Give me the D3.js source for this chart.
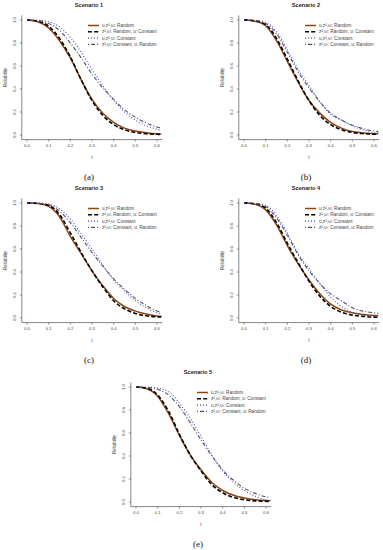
<!DOCTYPE html>
<html>
<head>
<meta charset="utf-8">
<script src="https://cdn.jsdelivr.net/npm/d3@7"></script>
<style>
  body { margin: 0; background: #fff; }
  svg { display: block; }
</style>
</head>
<body>
<svg id="chart" width="383" height="550"></svg>
<script>
// time grid shared by every curve
const tVals = [0, 0.05, 0.1, 0.15, 0.2, 0.25, 0.3, 0.35, 0.4, 0.45, 0.5, 0.55, 0.6, 0.62];

const seriesNames = [
    "u,z\u00b2,\u03c9: Random",
    "z\u00b2,\u03c9: Random, u: Constant",
    "u,z\u00b2,\u03c9: Constant",
    "z\u00b2,\u03c9: Constant, u: Random"
];

const xTicks = [0, 0.1, 0.2, 0.3, 0.4, 0.5, 0.6];
const yTicks = [0, 0.2, 0.4, 0.6, 0.8, 1.0];

// reliability (random, z-random/u-const, constant, z-const/u-random)
const s1Random    = [1, 0.985, 0.93, 0.82, 0.67, 0.48, 0.31, 0.19, 0.11, 0.06, 0.035, 0.02, 0.01, 0.008];
const s1ZRandom   = [1, 0.99, 0.945, 0.84, 0.68, 0.48, 0.30, 0.17, 0.09, 0.045, 0.022, 0.011, 0.006, 0.005];
const s1Constant  = [1, 0.998, 0.985, 0.94, 0.85, 0.72, 0.57, 0.43, 0.30, 0.20, 0.13, 0.08, 0.05, 0.04];
const s1ZConstant = [1, 0.995, 0.97, 0.91, 0.80, 0.67, 0.53, 0.41, 0.31, 0.22, 0.155, 0.105, 0.07, 0.06];

const s2Random    = [1, 0.99, 0.95, 0.82, 0.64, 0.46, 0.30, 0.19, 0.11, 0.06, 0.03, 0.018, 0.011, 0.01];
const s2ZRandom   = [1, 0.993, 0.96, 0.84, 0.66, 0.47, 0.30, 0.17, 0.09, 0.045, 0.022, 0.012, 0.007, 0.006];
const s2Constant  = [1, 0.997, 0.98, 0.90, 0.74, 0.57, 0.43, 0.29, 0.18, 0.13, 0.08, 0.045, 0.022, 0.02];
const s2ZConstant = [1, 0.995, 0.97, 0.88, 0.72, 0.55, 0.41, 0.29, 0.19, 0.13, 0.085, 0.055, 0.035, 0.03];

const s3Random    = [1, 0.995, 0.97, 0.88, 0.71, 0.56, 0.41, 0.28, 0.17, 0.10, 0.06, 0.035, 0.018, 0.015];
const s3ZRandom   = [1, 0.997, 0.98, 0.90, 0.74, 0.57, 0.41, 0.27, 0.15, 0.08, 0.04, 0.02, 0.01, 0.008];
const s3Constant  = [1, 0.999, 0.99, 0.95, 0.86, 0.73, 0.60, 0.46, 0.33, 0.235, 0.15, 0.09, 0.045, 0.038];
const s3ZConstant = [1, 0.998, 0.985, 0.93, 0.83, 0.70, 0.57, 0.45, 0.34, 0.25, 0.17, 0.11, 0.06, 0.05];

const s4Random    = [1, 0.99, 0.94, 0.81, 0.63, 0.47, 0.33, 0.21, 0.12, 0.07, 0.045, 0.03, 0.022, 0.02];
const s4ZRandom   = [1, 0.993, 0.955, 0.83, 0.65, 0.48, 0.32, 0.19, 0.10, 0.05, 0.025, 0.014, 0.008, 0.007];
const s4Constant  = [1, 0.997, 0.98, 0.89, 0.74, 0.56, 0.43, 0.30, 0.18, 0.10, 0.05, 0.025, 0.012, 0.01];
const s4ZConstant = [1, 0.995, 0.97, 0.87, 0.72, 0.55, 0.41, 0.30, 0.21, 0.15, 0.09, 0.06, 0.045, 0.04];

const s5Random    = [1, 0.985, 0.92, 0.77, 0.58, 0.41, 0.28, 0.17, 0.10, 0.058, 0.035, 0.02, 0.012, 0.01];
const s5ZRandom   = [1, 0.99, 0.93, 0.79, 0.59, 0.41, 0.27, 0.15, 0.08, 0.04, 0.02, 0.01, 0.006, 0.005];
const s5Constant  = [1, 0.999, 0.99, 0.96, 0.86, 0.73, 0.57, 0.41, 0.27, 0.17, 0.10, 0.05, 0.018, 0.015];
const s5ZConstant = [1, 0.997, 0.98, 0.93, 0.83, 0.69, 0.54, 0.40, 0.28, 0.19, 0.12, 0.075, 0.045, 0.04];

const panels = [
    { title: "Scenario 1", cap: "(a)", x0: 27,  top: 20,  series: [s1Random, s1ZRandom, s1Constant, s1ZConstant] },
    { title: "Scenario 2", cap: "(b)", x0: 244, top: 20,  series: [s2Random, s2ZRandom, s2Constant, s2ZConstant] },
    { title: "Scenario 3", cap: "(c)", x0: 27,  top: 203, series: [s3Random, s3ZRandom, s3Constant, s3ZConstant] },
    { title: "Scenario 4", cap: "(d)", x0: 244, top: 203, series: [s4Random, s4ZRandom, s4Constant, s4ZConstant] },
    { title: "Scenario 5", cap: "(e)", x0: 136, top: 387, series: [s5Random, s5ZRandom, s5Constant, s5ZConstant] }
];

const styles = [
    { color: "#8B4513", width: 1.5, dash: null },
    { color: "#000000", width: 1.6, dash: "4,2.2" },
    { color: "#4a4ac8", width: 1.1, dash: "1,2" },
    { color: "#505068", width: 1.1, dash: "1,2,4,2" }
];

const svg = d3.select("#chart");
const sans = "'Liberation Sans', Arial, sans-serif";
const ink = "#444";

panels.forEach((p, pi) => {
    const x = d3.scaleLinear().domain([0, 0.6]).range([p.x0, p.x0 + 130]);
    const y = d3.scaleLinear().domain([0, 1]).range([p.top + 115, p.top]);
    const xMin = -0.024, xMax = 0.624, yMin = -0.04, yMax = 1.04;

    const g = svg.append("g");

    svg.append("clipPath").attr("id", "clip" + pi)
        .append("rect")
        .attr("x", x(xMin)).attr("y", y(yMax))
        .attr("width", x(xMax) - x(xMin)).attr("height", y(yMin) - y(yMax));

    // L-shaped box
    g.append("path")
        .attr("d", `M${x(xMin)},${y(yMax)}V${y(yMin)}H${x(xMax)}`)
        .attr("fill", "none").attr("stroke", "#333").attr("stroke-width", 0.6);

    // x ticks
    const xt = g.append("g");
    xt.selectAll("line").data(xTicks).enter().append("line")
        .attr("x1", d => x(d)).attr("x2", d => x(d))
        .attr("y1", y(yMin)).attr("y2", y(yMin) + 2)
        .attr("stroke", "#333").attr("stroke-width", 0.5);
    xt.selectAll("text").data(xTicks).enter().append("text")
        .attr("x", d => x(d)).attr("y", y(yMin) + 7.5)
        .attr("text-anchor", "middle")
        .attr("font-family", sans).attr("font-size", 4.2).attr("fill", ink)
        .text(d => d3.format(".1f")(d));

    // y ticks
    const yt = g.append("g");
    yt.selectAll("line").data(yTicks).enter().append("line")
        .attr("x1", x(xMin)).attr("x2", x(xMin) - 2)
        .attr("y1", d => y(d)).attr("y2", d => y(d))
        .attr("stroke", "#333").attr("stroke-width", 0.5);
    yt.selectAll("text").data(yTicks).enter().append("text")
        .attr("transform", d => `translate(${x(xMin) - 5.5},${y(d)}) rotate(-90)`)
        .attr("text-anchor", "middle")
        .attr("font-family", sans).attr("font-size", 4.2).attr("fill", ink)
        .text(d => d3.format(".1f")(d));

    // axis titles
    g.append("text")
        .attr("transform", `translate(${p.x0 - 20},${y(0.5)}) rotate(-90)`)
        .attr("text-anchor", "middle")
        .attr("font-family", sans).attr("font-size", 4.6).attr("fill", ink)
        .text("Reliability");
    g.append("text")
        .attr("x", x(0.3)).attr("y", p.top + 139)
        .attr("text-anchor", "middle")
        .attr("font-family", sans).attr("font-size", 4.6).attr("fill", ink)
        .text("t");

    g.append("text")
        .attr("x", x(0.3) - 3).attr("y", p.top - 13)
        .attr("text-anchor", "middle")
        .attr("font-family", sans).attr("font-size", 5.6).attr("font-weight", "bold").attr("fill", "#222")
        .text(p.title);

    g.append("text")
        .attr("x", x(0.3) - 3).attr("y", p.top + 160)
        .attr("text-anchor", "middle")
        .attr("font-family", "'Liberation Serif', 'DejaVu Serif', serif").attr("font-size", 9).attr("fill", "#111")
        .text(p.cap);

    // curves
    const line = d3.line()
        .x((d, i) => x(tVals[i]))
        .y(d => y(d))
        .curve(d3.curveMonotoneX);

    const curves = g.append("g").attr("clip-path", `url(#clip${pi})`);
    p.series.forEach((s, si) => {
        const st = styles[si];
        curves.append("path")
            .datum(s)
            .attr("d", line)
            .attr("fill", "none")
            .attr("stroke", st.color)
            .attr("stroke-width", st.width)
            .attr("stroke-dasharray", st.dash);
    });

    // legend
    const lg = g.append("g");
    seriesNames.forEach((name, si) => {
        const st = styles[si];
        const ly = p.top + 5.5 + si * 6.3;
        lg.append("line")
            .attr("x1", p.x0 + 61).attr("x2", p.x0 + 72)
            .attr("y1", ly).attr("y2", ly)
            .attr("stroke", st.color).attr("stroke-width", st.width)
            .attr("stroke-dasharray", st.dash);
        lg.append("text")
            .attr("x", p.x0 + 75).attr("y", ly + 1.6)
            .attr("font-family", sans).attr("font-size", 4.6).attr("fill", ink)
            .text(name);
    });
});
</script>
</body>
</html>
